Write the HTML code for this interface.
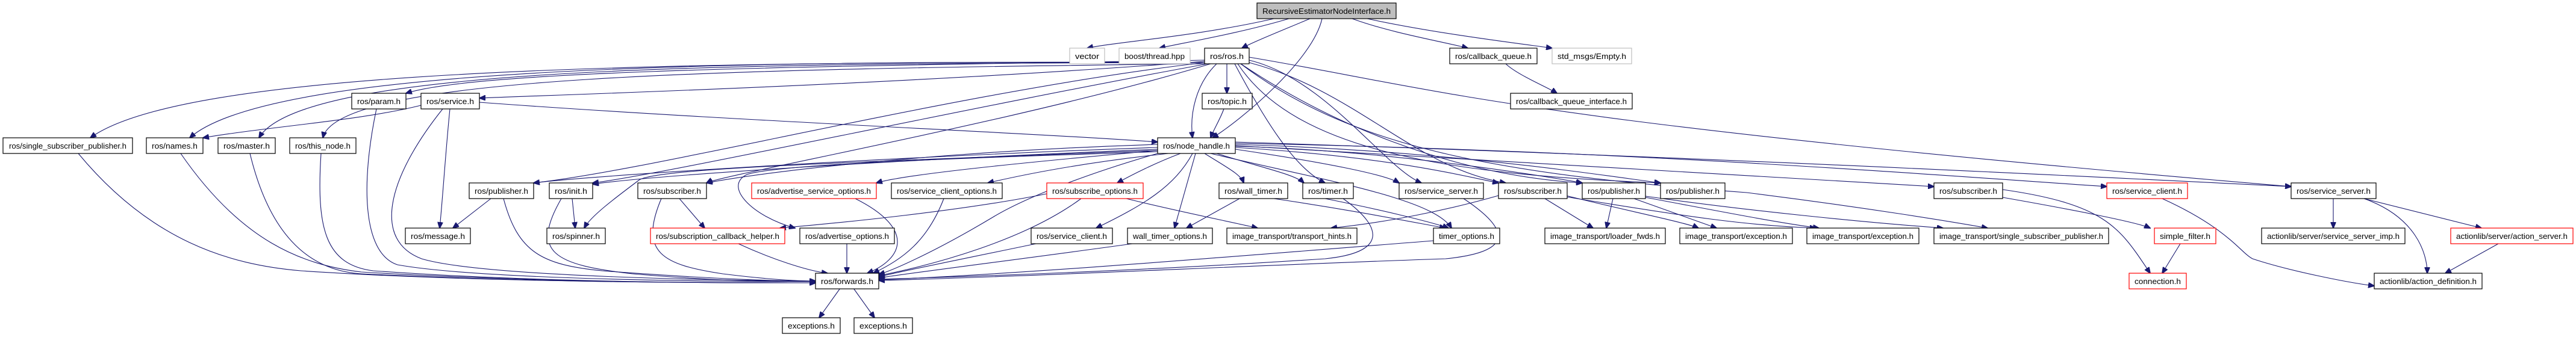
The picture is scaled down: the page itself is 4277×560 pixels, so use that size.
<!DOCTYPE html>
<html><head><meta charset="utf-8"><style>
html,body{margin:0;padding:0;background:#fff;}
svg{display:block;}
text{font-family:"Liberation Sans",sans-serif;font-size:13px;fill:#000;text-anchor:middle;}
.n{fill:#fff;stroke:#000;stroke-width:1.2;}
.g{fill:#fff;stroke:#bfbfbf;stroke-width:1.2;}
.r{fill:#fff;stroke:#ff0000;stroke-width:1.2;}
.root{fill:#bfbfbf;stroke:#000;stroke-width:1.2;}
.e path{fill:none;stroke:#191970;stroke-width:1.1;marker-end:url(#a);}
</style></head><body>
<svg width="4277" height="560" viewBox="0 0 4277 560" xmlns="http://www.w3.org/2000/svg">
<defs><marker id="a" markerUnits="userSpaceOnUse" markerWidth="11" markerHeight="9" refX="10" refY="4.5" orient="auto"><path d="M0,0 L11,4.5 L0,9 z" fill="#191970" stroke="#191970"/></marker></defs>
<g class="e">
<path d="M2115 31 C1990 60,1850 70,1805 80"/>
<path d="M2140 31 C2060 55,1960 72,1925 80"/>
<path d="M2175 31 C2130 50,2080 70,2062 80"/>
<path d="M2195 31 C2180 100,2060 200,2013 229"/>
<path d="M2245 31 C2310 55,2400 70,2437 80"/>
<path d="M2270 31 C2380 55,2520 72,2577 80"/>
<path d="M2500 106 C2520 125,2570 145,2585 155"/>
<path d="M2037 106 L2037 155"/>
<path d="M2032 181 C2025 200,2015 215,2010 229"/>
<path d="M2020 106 C1985 140,1975 190,1980 229"/>
<path d="M2000 100 C1400 110,800 115,674 155"/>
<path d="M2000 102 C1500 140,1000 155,796 163"/>
<path d="M2000 104 C1000 100,300 120,150 229"/>
<path d="M2000 104 C1200 100,450 110,315 229"/>
<path d="M2000 104 C1200 105,500 110,430 229"/>
<path d="M2000 106 C1200 115,560 125,536 229"/>
<path d="M2000 104 C1600 150,1100 280,886 304"/>
<path d="M2005 106 C1600 180,1100 290,984 304"/>
<path d="M2010 106 C1700 200,1200 290,1173 304"/>
<path d="M2074 100 C2200 130,2300 280,2360 304"/>
<path d="M2074 104 C2250 150,2350 280,2500 304"/>
<path d="M2060 106 C2200 200,2400 290,2627 304"/>
<path d="M2055 106 C2150 250,2400 290,2757 304"/>
<path d="M2074 95 C2400 150,2500 200,3804 310"/>
<path d="M2050 106 C2100 200,2150 280,2200 304"/>
<path d="M2060 106 C2250 250,2500 290,2900 320 C3100 345,3250 370,3300 379"/>
<path d="M699 175 C600 200,450 210,337 229"/>
<path d="M796 170 C1200 200,1700 220,1922 236"/>
<path d="M747 181 C740 250,735 330,730 379"/>
<path d="M735 181 C640 300,620 400,700 430 C800 460,1200 466,1354 467"/>
<path d="M625 181 C600 300,600 420,660 440 C800 465,1200 468,1354 468"/>
<path d="M130 255 C250 400,380 440,500 450 C800 470,1200 470,1354 470"/>
<path d="M300 255 C400 400,500 440,600 452 C900 470,1200 470,1354 470"/>
<path d="M415 255 C450 400,520 450,600 455 C900 470,1200 470,1354 470"/>
<path d="M533 255 C525 380,540 440,620 450 C900 470,1200 470,1354 470"/>
<path d="M1922 245 C1500 260,1000 290,886 304"/>
<path d="M1922 248 C1500 265,1100 290,984 306"/>
<path d="M1922 250 C1400 270,1080 280,1060 300 C1020 330,980 360,970 379"/>
<path d="M1922 240 C1600 250,1300 280,1173 304"/>
<path d="M1922 250 C1700 270,1500 290,1455 304"/>
<path d="M1940 255 C1800 270,1700 290,1640 304"/>
<path d="M1960 255 C1920 270,1880 290,1855 304"/>
<path d="M1922 252 C1700 260,1300 270,1240 290 C1200 310,1250 360,1320 379"/>
<path d="M1922 255 C1800 290,1700 330,1650 360 C1550 420,1480 450,1459 456"/>
<path d="M1980 255 C1950 310,1900 340,1820 379"/>
<path d="M1985 255 L1950 379"/>
<path d="M2000 255 C2040 280,2060 290,2065 304"/>
<path d="M2020 255 C2100 280,2150 290,2165 304"/>
<path d="M2051 248 C2200 270,2300 290,2323 304"/>
<path d="M2051 245 C2300 260,2420 290,2488 304"/>
<path d="M2051 243 C2300 250,2550 290,2627 304"/>
<path d="M2051 240 C2400 250,2650 290,2757 304"/>
<path d="M2051 242 C2700 280,3000 300,3211 310"/>
<path d="M2051 238 C2700 250,3200 290,3498 310"/>
<path d="M2051 236 C2800 260,3400 290,3804 310"/>
<path d="M2010 255 C2200 300,2380 330,2410 379"/>
<path d="M815 330 L752 379"/>
<path d="M836 330 C860 420,900 440,1000 450 C1200 465,1300 467,1354 467"/>
<path d="M950 330 L955 379"/>
<path d="M932 330 C880 420,920 440,1050 455 C1200 468,1300 468,1354 468"/>
<path d="M1128 330 L1170 379"/>
<path d="M1098 330 C1060 420,1100 440,1200 455 C1280 465,1330 467,1354 467"/>
<path d="M1420 330 C1520 380,1500 430,1440 454"/>
<path d="M1567 330 C1540 400,1500 430,1450 454"/>
<path d="M1738 322 C1600 350,1400 370,1295 379"/>
<path d="M1795 330 C1700 400,1550 440,1459 458"/>
<path d="M1870 330 C1950 350,2050 370,2088 379"/>
<path d="M1406 405 L1406 454"/>
<path d="M1226 405 C1280 430,1340 450,1374 454"/>
<path d="M1720 405 C1600 430,1500 450,1459 460"/>
<path d="M1880 405 C1700 430,1500 455,1459 462"/>
<path d="M2058 330 L1970 379"/>
<path d="M2115 330 C2250 350,2350 370,2400 379"/>
<path d="M2200 330 C2300 350,2380 370,2405 379"/>
<path d="M2230 330 C2300 380,2300 420,2200 430 C1900 450,1600 460,1459 464"/>
<path d="M2380 400 C2000 430,1700 455,1459 465"/>
<path d="M2430 330 C2520 390,2500 420,2400 430 C2100 440,1700 460,1459 466"/>
<path d="M1395 479 L1360 528"/>
<path d="M1417 479 L1452 528"/>
<path d="M2488 325 C2400 350,2300 370,2210 379"/>
<path d="M2565 330 L2645 379"/>
<path d="M2600 325 C2700 350,2800 370,2820 379"/>
<path d="M2600 327 C2800 360,2900 375,3015 379"/>
<path d="M2678 330 L2667 379"/>
<path d="M2713 330 L2850 379"/>
<path d="M2732 328 C2850 350,2950 370,3020 379"/>
<path d="M2732 326 C2900 350,3100 370,3226 379"/>
<path d="M3325 328 C3450 350,3550 370,3570 379"/>
<path d="M3325 315 C3500 340,3520 380,3570 454"/>
<path d="M3620 405 L3590 454"/>
<path d="M3590 330 C3700 380,3720 420,3740 430 C3800 450,3900 470,3942 475"/>
<path d="M3874 330 L3874 379"/>
<path d="M3925 330 L4120 379"/>
<path d="M3925 330 C4010 360,4030 420,4030 454"/>
<path d="M4148 405 L4060 454"/>
</g>
<g>
<rect class="root" x="2087" y="5" width="231" height="26"/><text x="2202.5" y="23" textLength="213" lengthAdjust="spacingAndGlyphs">RecursiveEstimatorNodeInterface.h</text>
<rect class="g" x="1776" y="80" width="58" height="26"/><text x="1805" y="98" textLength="40" lengthAdjust="spacingAndGlyphs">vector</text>
<rect class="g" x="1858" y="80" width="118" height="26"/><text x="1917" y="98" textLength="100" lengthAdjust="spacingAndGlyphs">boost/thread.hpp</text>
<rect class="n" x="2000" y="80" width="74" height="26"/><text x="2037" y="98" textLength="56" lengthAdjust="spacingAndGlyphs">ros/ros.h</text>
<rect class="n" x="2407" y="80" width="145" height="26"/><text x="2479.5" y="98" textLength="127" lengthAdjust="spacingAndGlyphs">ros/callback_queue.h</text>
<rect class="g" x="2577" y="80" width="132" height="26"/><text x="2643" y="98" textLength="114" lengthAdjust="spacingAndGlyphs">std_msgs/Empty.h</text>
<rect class="n" x="584" y="155" width="90" height="26"/><text x="629" y="173" textLength="72" lengthAdjust="spacingAndGlyphs">ros/param.h</text>
<rect class="n" x="699" y="155" width="97" height="26"/><text x="747.5" y="173" textLength="79" lengthAdjust="spacingAndGlyphs">ros/service.h</text>
<rect class="n" x="1996" y="155" width="83" height="26"/><text x="2037.5" y="173" textLength="65" lengthAdjust="spacingAndGlyphs">ros/topic.h</text>
<rect class="n" x="2508" y="155" width="202" height="26"/><text x="2609" y="173" textLength="184" lengthAdjust="spacingAndGlyphs">ros/callback_queue_interface.h</text>
<rect class="n" x="5" y="229" width="215" height="26"/><text x="112.5" y="247" textLength="195" lengthAdjust="spacingAndGlyphs">ros/single_subscriber_publisher.h</text>
<rect class="n" x="243" y="229" width="94" height="26"/><text x="290" y="247" textLength="76" lengthAdjust="spacingAndGlyphs">ros/names.h</text>
<rect class="n" x="362" y="229" width="95" height="26"/><text x="409.5" y="247" textLength="77" lengthAdjust="spacingAndGlyphs">ros/master.h</text>
<rect class="n" x="481" y="229" width="110" height="26"/><text x="536" y="247" textLength="92" lengthAdjust="spacingAndGlyphs">ros/this_node.h</text>
<rect class="n" x="1922" y="229" width="129" height="26"/><text x="1986.5" y="247" textLength="111" lengthAdjust="spacingAndGlyphs">ros/node_handle.h</text>
<rect class="n" x="779" y="304" width="107" height="26"/><text x="832.5" y="322" textLength="89" lengthAdjust="spacingAndGlyphs">ros/publisher.h</text>
<rect class="n" x="912" y="304" width="72" height="26"/><text x="948" y="322" textLength="54" lengthAdjust="spacingAndGlyphs">ros/init.h</text>
<rect class="n" x="1059" y="304" width="114" height="26"/><text x="1116" y="322" textLength="96" lengthAdjust="spacingAndGlyphs">ros/subscriber.h</text>
<rect class="r" x="1248" y="304" width="207" height="26"/><text x="1351.5" y="322" textLength="189" lengthAdjust="spacingAndGlyphs">ros/advertise_service_options.h</text>
<rect class="n" x="1480" y="304" width="184" height="26"/><text x="1572" y="322" textLength="166" lengthAdjust="spacingAndGlyphs">ros/service_client_options.h</text>
<rect class="r" x="1738" y="304" width="160" height="26"/><text x="1818" y="322" textLength="142" lengthAdjust="spacingAndGlyphs">ros/subscribe_options.h</text>
<rect class="n" x="2024" y="304" width="114" height="26"/><text x="2081" y="322" textLength="96" lengthAdjust="spacingAndGlyphs">ros/wall_timer.h</text>
<rect class="n" x="2163" y="304" width="84" height="26"/><text x="2205" y="322" textLength="66" lengthAdjust="spacingAndGlyphs">ros/timer.h</text>
<rect class="n" x="2323" y="304" width="140" height="26"/><text x="2393" y="322" textLength="122" lengthAdjust="spacingAndGlyphs">ros/service_server.h</text>
<rect class="n" x="2488" y="304" width="114" height="26"/><text x="2545" y="322" textLength="96" lengthAdjust="spacingAndGlyphs">ros/subscriber.h</text>
<rect class="n" x="2627" y="304" width="105" height="26"/><text x="2679.5" y="322" textLength="87" lengthAdjust="spacingAndGlyphs">ros/publisher.h</text>
<rect class="n" x="2757" y="304" width="107" height="26"/><text x="2810.5" y="322" textLength="89" lengthAdjust="spacingAndGlyphs">ros/publisher.h</text>
<rect class="n" x="3211" y="304" width="114" height="26"/><text x="3268" y="322" textLength="96" lengthAdjust="spacingAndGlyphs">ros/subscriber.h</text>
<rect class="r" x="3498" y="304" width="134" height="26"/><text x="3565" y="322" textLength="116" lengthAdjust="spacingAndGlyphs">ros/service_client.h</text>
<rect class="n" x="3804" y="304" width="141" height="26"/><text x="3874.5" y="322" textLength="123" lengthAdjust="spacingAndGlyphs">ros/service_server.h</text>
<rect class="n" x="673" y="379" width="108" height="26"/><text x="727" y="397" textLength="90" lengthAdjust="spacingAndGlyphs">ros/message.h</text>
<rect class="n" x="908" y="379" width="97" height="26"/><text x="956.5" y="397" textLength="79" lengthAdjust="spacingAndGlyphs">ros/spinner.h</text>
<rect class="r" x="1080" y="379" width="223" height="26"/><text x="1191.5" y="397" textLength="205" lengthAdjust="spacingAndGlyphs">ros/subscription_callback_helper.h</text>
<rect class="n" x="1328" y="379" width="157" height="26"/><text x="1406.5" y="397" textLength="139" lengthAdjust="spacingAndGlyphs">ros/advertise_options.h</text>
<rect class="n" x="1712" y="379" width="135" height="26"/><text x="1779.5" y="397" textLength="117" lengthAdjust="spacingAndGlyphs">ros/service_client.h</text>
<rect class="n" x="1872" y="379" width="141" height="26"/><text x="1942.5" y="397" textLength="123" lengthAdjust="spacingAndGlyphs">wall_timer_options.h</text>
<rect class="n" x="2037" y="379" width="216" height="26"/><text x="2145" y="397" textLength="198" lengthAdjust="spacingAndGlyphs">image_transport/transport_hints.h</text>
<rect class="n" x="2380" y="379" width="110" height="26"/><text x="2435" y="397" textLength="92" lengthAdjust="spacingAndGlyphs">timer_options.h</text>
<rect class="n" x="2565" y="379" width="200" height="26"/><text x="2665" y="397" textLength="182" lengthAdjust="spacingAndGlyphs">image_transport/loader_fwds.h</text>
<rect class="n" x="2789" y="379" width="187" height="26"/><text x="2882.5" y="397" textLength="169" lengthAdjust="spacingAndGlyphs">image_transport/exception.h</text>
<rect class="n" x="3000" y="379" width="186" height="26"/><text x="3093" y="397" textLength="168" lengthAdjust="spacingAndGlyphs">image_transport/exception.h</text>
<rect class="n" x="3211" y="379" width="290" height="26"/><text x="3356" y="397" textLength="272" lengthAdjust="spacingAndGlyphs">image_transport/single_subscriber_publisher.h</text>
<rect class="r" x="3577" y="379" width="102" height="26"/><text x="3628" y="397" textLength="84" lengthAdjust="spacingAndGlyphs">simple_filter.h</text>
<rect class="n" x="3755" y="379" width="238" height="26"/><text x="3874" y="397" textLength="220" lengthAdjust="spacingAndGlyphs">actionlib/server/service_server_imp.h</text>
<rect class="r" x="4069" y="379" width="203" height="26"/><text x="4170.5" y="397" textLength="185" lengthAdjust="spacingAndGlyphs">actionlib/server/action_server.h</text>
<rect class="n" x="1354" y="454" width="105" height="26"/><text x="1406.5" y="472" textLength="87" lengthAdjust="spacingAndGlyphs">ros/forwards.h</text>
<rect class="r" x="3535" y="454" width="95" height="26"/><text x="3582.5" y="472" textLength="77" lengthAdjust="spacingAndGlyphs">connection.h</text>
<rect class="n" x="3942" y="454" width="179" height="26"/><text x="4031.5" y="472" textLength="161" lengthAdjust="spacingAndGlyphs">actionlib/action_definition.h</text>
<rect class="n" x="1299" y="528" width="96" height="26"/><text x="1347" y="546" textLength="78" lengthAdjust="spacingAndGlyphs">exceptions.h</text>
<rect class="n" x="1418" y="528" width="97" height="26"/><text x="1466.5" y="546" textLength="79" lengthAdjust="spacingAndGlyphs">exceptions.h</text>
</g>
</svg>
</body></html>
